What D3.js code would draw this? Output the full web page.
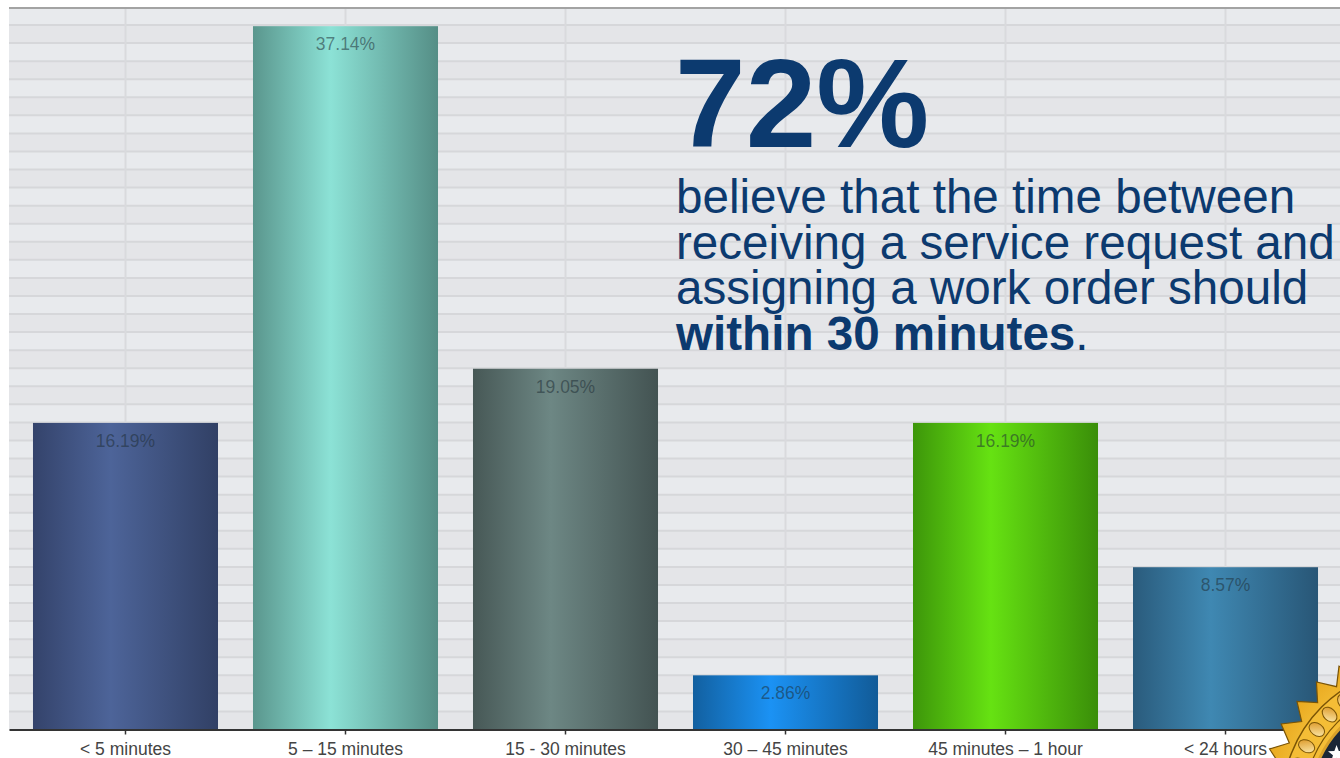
<!DOCTYPE html>
<html>
<head>
<meta charset="utf-8">
<script src="https://cdn.jsdelivr.net/npm/d3@7"></script>
<style>
  html, body { margin: 0; padding: 0; background: #ffffff; overflow: hidden; }
  svg { display: block; }
  text { font-family: "Liberation Sans", Arial, Helvetica, sans-serif; }
</style>
</head>
<body>
<svg id="chart" width="1340" height="758"></svg>
<script>
// Survey responses: time between receiving a service request and assigning a work order
const categories = ["< 5 minutes", "5 – 15 minutes", "15 - 30 minutes", "30 – 45 minutes", "45 minutes – 1 hour", "< 24 hours"];
const values = [16.19, 37.14, 19.05, 2.86, 16.19, 8.57];
const valueLabels = ["16.19%", "37.14%", "19.05%", "2.86%", "16.19%", "8.57%"];
const barEdge = ["#34436b", "#5a968d", "#475856", "#1260a0", "#3d960a", "#2a5b7c"];
const barMid  = ["#4d6499", "#8ce2d6", "#6d8784", "#1b92f4", "#66e212", "#3f88b2"];
const headline = "72%";
const bodyLines = ["believe that the time between", "receiving a service request and", "assigning a work order should"];
const boldLine = "within 30 minutes";

const W = 1340, H = 758;
const plot = { left: 9, right: 1342, top: 8, base: 729.5 };

const svg = d3.select("#chart");
const defs = svg.append("defs");

const x = d3.scaleBand()
  .domain(categories)
  .range([plot.left, plot.right])
  .paddingInner(0.159)
  .paddingOuter(0.109);

const y = d3.scaleLinear()
  .domain([0, 38.1])
  .range([plot.base, plot.top]);

// background grid uses its own fine-ruled scale
const gridRows = d3.range(0, 40);
const gy = d3.scaleLinear().domain([0, 39]).range([plot.base, 25]);

// plot background with subtle alternating stripes
svg.append("rect")
  .attr("x", plot.left).attr("y", plot.top)
  .attr("width", W - plot.left).attr("height", plot.base - plot.top)
  .attr("fill", "#e8eaed");

svg.append("g").selectAll("rect")
  .data(gridRows.filter(d => d % 2 === 0))
  .join("rect")
  .attr("x", plot.left)
  .attr("y", d => gy(d + 1))
  .attr("width", W - plot.left)
  .attr("height", d => gy(d) - gy(d + 1))
  .attr("fill", "#e4e5e8");

svg.append("g").selectAll("line")
  .data(gridRows.slice(1))
  .join("line")
  .attr("x1", plot.left).attr("x2", W)
  .attr("y1", d => gy(d)).attr("y2", d => gy(d))
  .attr("stroke", "#d6d7da")
  .attr("stroke-width", 2);

svg.append("g").selectAll("line")
  .data(categories)
  .join("line")
  .attr("x1", d => x(d) + x.bandwidth() / 2)
  .attr("x2", d => x(d) + x.bandwidth() / 2)
  .attr("y1", plot.top).attr("y2", plot.base)
  .attr("stroke", "#d9dadd")
  .attr("stroke-width", 2);

// top border
svg.append("line")
  .attr("x1", plot.left).attr("x2", W)
  .attr("y1", plot.top).attr("y2", plot.top)
  .attr("stroke", "#a3a3a3").attr("stroke-width", 2);

// cylindrical shading per bar
categories.forEach((c, i) => {
  const g = defs.append("linearGradient")
    .attr("id", "bar" + i)
    .attr("x1", "0%").attr("x2", "100%").attr("y1", "0%").attr("y2", "0%");
  g.append("stop").attr("offset", "0%").attr("stop-color", barEdge[i]);
  g.append("stop").attr("offset", "42%").attr("stop-color", barMid[i]);
  g.append("stop").attr("offset", "100%").attr("stop-color", d3.color(barEdge[i]).darker(0.15));
});

const bars = svg.append("g");
bars.selectAll("rect")
  .data(values)
  .join("rect")
  .attr("x", (d, i) => x(categories[i]))
  .attr("y", d => y(d))
  .attr("width", x.bandwidth())
  .attr("height", d => y(0) - y(d))
  .attr("fill", (d, i) => `url(#bar${i})`);

bars.selectAll("text")
  .data(values)
  .join("text")
  .attr("x", (d, i) => x(categories[i]) + x.bandwidth() / 2)
  .attr("y", d => y(d) + 24)
  .attr("text-anchor", "middle")
  .attr("font-size", 17.5)
  .attr("fill", "#1e2e36")
  .attr("fill-opacity", 0.55)
  .text((d, i) => valueLabels[i]);

// category axis
const xAxis = d3.axisBottom(x).tickSize(5).tickSizeOuter(0).tickPadding(8);
const ax = svg.append("g")
  .attr("transform", `translate(0,${plot.base})`)
  .call(xAxis);
ax.select(".domain").attr("stroke", "#333").attr("stroke-width", 2);
ax.selectAll(".tick line").attr("stroke", "#333").attr("stroke-width", 1.5);
ax.selectAll(".tick text")
  .attr("font-size", 17.5)
  .attr("fill", "#444")
  .attr("font-family", "'Liberation Sans', Arial, sans-serif");

// callout text
const callout = svg.append("g").attr("fill", "#0c3a6f");
callout.append("text")
  .attr("x", 675).attr("y", 147)
  .attr("font-size", 127)
  .attr("font-weight", "bold")
  .text(headline);

const body = callout.append("text").attr("font-size", 47.6);
bodyLines.forEach((line, i) => {
  body.append("tspan").attr("x", 676).attr("y", 213 + i * 45.5).text(line);
});
const last = body.append("tspan").attr("x", 676).attr("y", 213 + 3 * 45.5);
last.append("tspan").attr("font-weight", "bold").text(boldLine);
last.append("tspan").text(".");

// gold seal in the corner
const seal = svg.append("g").attr("transform", "translate(1418,803)");
const gold = defs.append("radialGradient").attr("id", "gold");
gold.append("stop").attr("offset", "70%").attr("stop-color", "#f7c843");
gold.append("stop").attr("offset", "100%").attr("stop-color", "#e9a91f");

const teeth = 36, rOut = 158, rIn = 142;
const pts = d3.range(teeth * 2).map(k => {
  const a = (k / (teeth * 2)) * 2 * Math.PI;
  const r = k % 2 === 0 ? rOut : rIn;
  return [r * Math.cos(a), r * Math.sin(a)];
});
seal.append("path")
  .attr("d", d3.line()(pts) + "Z")
  .attr("fill", "url(#gold)")
  .attr("stroke", "#7a5406").attr("stroke-width", 1.2);
seal.append("circle").attr("r", 136).attr("fill", "#f4bd36")
  .attr("stroke", "#7a5406").attr("stroke-width", 1.5);
seal.append("circle").attr("r", 114).attr("fill", "none")
  .attr("stroke", "#7a5406").attr("stroke-width", 1.2);

const beadGrad = defs.append("linearGradient").attr("id", "bead")
  .attr("x1", "0%").attr("x2", "100%").attr("y1", "0%").attr("y2", "100%");
beadGrad.append("stop").attr("offset", "0%").attr("stop-color", "#fff1b8");
beadGrad.append("stop").attr("offset", "100%").attr("stop-color", "#d9901a");
const beads = d3.range(40).map(k => (k / 40) * 360);
seal.append("g").selectAll("ellipse")
  .data(beads)
  .join("ellipse")
  .attr("transform", a => `rotate(${a}) translate(125,0)`)
  .attr("rx", 8.5).attr("ry", 6)
  .attr("fill", "url(#bead)")
  .attr("stroke", "#7a5406").attr("stroke-width", 1);

seal.append("circle").attr("r", 108).attr("fill", "#1b2636")
  .attr("stroke", "#d9a12a").attr("stroke-width", 3);

const star = d3.range(10).map(k => {
  const a = -Math.PI / 2 + k * Math.PI / 5;
  const r = k % 2 === 0 ? 9 : 3.8;
  return [r * Math.cos(a), r * Math.sin(a)];
});
const starAngles = d3.range(8.5, 368.5, 22.5);
seal.append("g").selectAll("path")
  .data(starAngles)
  .join("path")
  .attr("transform", a => {
    const rad = a * Math.PI / 180;
    return `translate(${95 * Math.cos(rad)},${95 * Math.sin(rad)})`;
  })
  .attr("d", d3.line()(star) + "Z")
  .attr("fill", "#ffffff");
</script>
</body>
</html>
